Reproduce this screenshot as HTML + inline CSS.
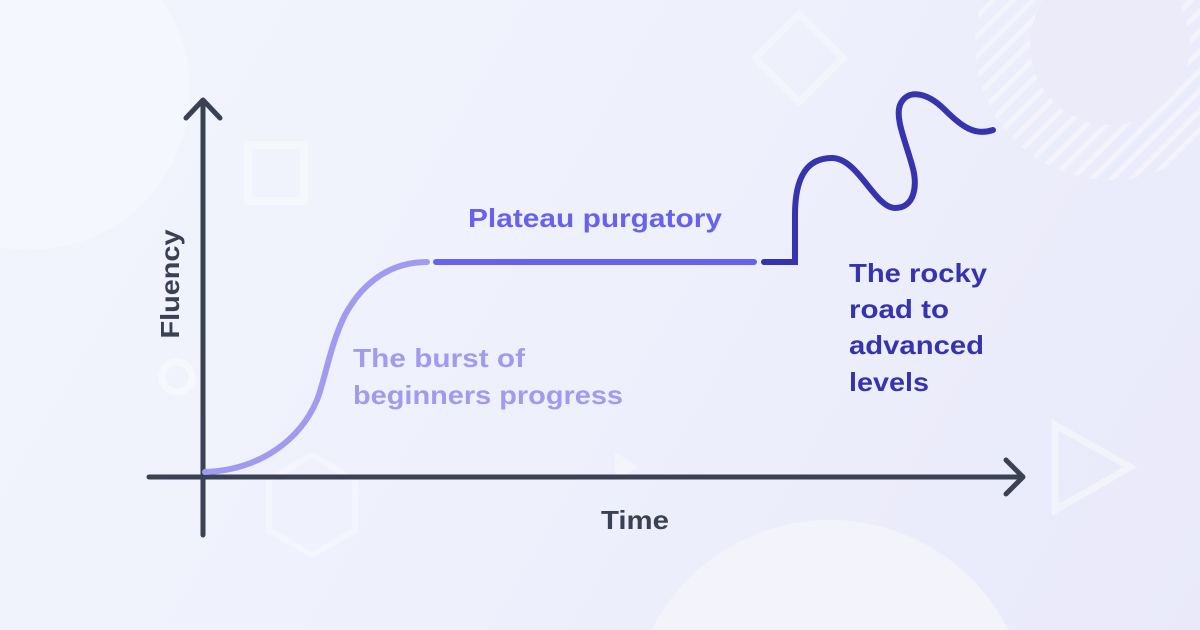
<!DOCTYPE html>
<html><head><meta charset="utf-8"><style>
html,body{margin:0;padding:0;width:1200px;height:630px;overflow:hidden}
body{background:linear-gradient(120deg,#f2f4fd 0%,#eef0fc 50%,#e9e9fa 100%);font-family:"Liberation Sans",sans-serif}
svg{display:block}
</style></head><body>
<svg width="1200" height="630" viewBox="0 0 1200 630" xmlns="http://www.w3.org/2000/svg">
<defs>
<pattern id="st" width="14" height="14" patternUnits="userSpaceOnUse" patternTransform="rotate(45)">
<rect width="5" height="14" fill="#f6f5fd" opacity="0.8"/>
</pattern>
</defs>
<circle cx="30" cy="90" r="160" fill="#f5f7fe" opacity="0.8"/>
<circle cx="830" cy="720" r="200" fill="#f3f3fc"/>
<circle cx="1110" cy="45" r="135" fill="url(#st)"/>
<circle cx="1110" cy="45" r="80" fill="#ebebfa"/>
<rect x="248" y="145" width="56" height="56" fill="none" stroke="#f6f7fd" stroke-width="8"/>
<rect x="768" y="27" width="62" height="62" fill="none" stroke="#f4f4fc" stroke-width="7" transform="rotate(45 799 58)"/>
<circle cx="177" cy="377" r="15" fill="none" stroke="#f7f8fe" stroke-width="7"/>
<polygon points="312,455 355,480 355,530 312,555 269,530 269,480" fill="none" stroke="#f4f5fd" stroke-width="6"/>
<polygon points="1055,425 1130,467 1055,510" fill="none" stroke="#f3f3fc" stroke-width="7"/>
<polygon points="615,452 638,467 615,482" fill="#f4f4fc"/>
<g stroke="#3a4152" stroke-width="5" stroke-linecap="round" fill="none" stroke-linejoin="round">
<line x1="203" y1="102" x2="203" y2="535"/>
<polyline points="186,118 203,100 220,118"/>
<line x1="149" y1="477" x2="1020" y2="477"/>
<polyline points="1006,460 1023,477 1006,494"/>
</g>
<path d="M205 472 C260 470 300 440 317 400 C325 380 330 345 345 315 C365 278 395 262 427 262" stroke="#a19bf0" stroke-width="6" fill="none" stroke-linecap="round"/>
<line x1="436" y1="262" x2="754" y2="262" stroke="#6762ee" stroke-width="6" stroke-linecap="round"/>
<path d="M764 262 L795 262 L795 215 C795 180 805 158 832 158 C858 158 875 208 895 208 C915 208 918 185 912 165 C905 140 895 118 900 105 C906 90 925 90 945 110 C962 127 975 136 993 130" stroke="#3633ae" stroke-width="6" fill="none" stroke-linecap="round"/>
<g font-family="Liberation Sans, sans-serif" font-weight="bold" font-size="26" lengthAdjust="spacingAndGlyphs">
<text x="468" y="227" fill="#6762ee" textLength="254" lengthAdjust="spacingAndGlyphs">Plateau purgatory</text>
<text x="353" y="367" fill="#a19bf0" textLength="172" lengthAdjust="spacingAndGlyphs">The burst of</text>
<text x="353" y="404" fill="#a19bf0" textLength="270" lengthAdjust="spacingAndGlyphs">beginners progress</text>
<text x="849" y="282" fill="#3633ae" textLength="138" lengthAdjust="spacingAndGlyphs">The rocky</text>
<text x="849" y="318" fill="#3633ae" textLength="100" lengthAdjust="spacingAndGlyphs">road to</text>
<text x="849" y="354" fill="#3633ae" textLength="135" lengthAdjust="spacingAndGlyphs">advanced</text>
<text x="849" y="391" fill="#3633ae" textLength="80" lengthAdjust="spacingAndGlyphs">levels</text>
<text x="601" y="529" fill="#3a4152" textLength="68" lengthAdjust="spacingAndGlyphs">Time</text>
<text x="0" y="0" fill="#3a4152" transform="translate(179 284) rotate(-90)" text-anchor="middle" textLength="109" lengthAdjust="spacingAndGlyphs">Fluency</text>
</g>
</svg>
</body></html>
